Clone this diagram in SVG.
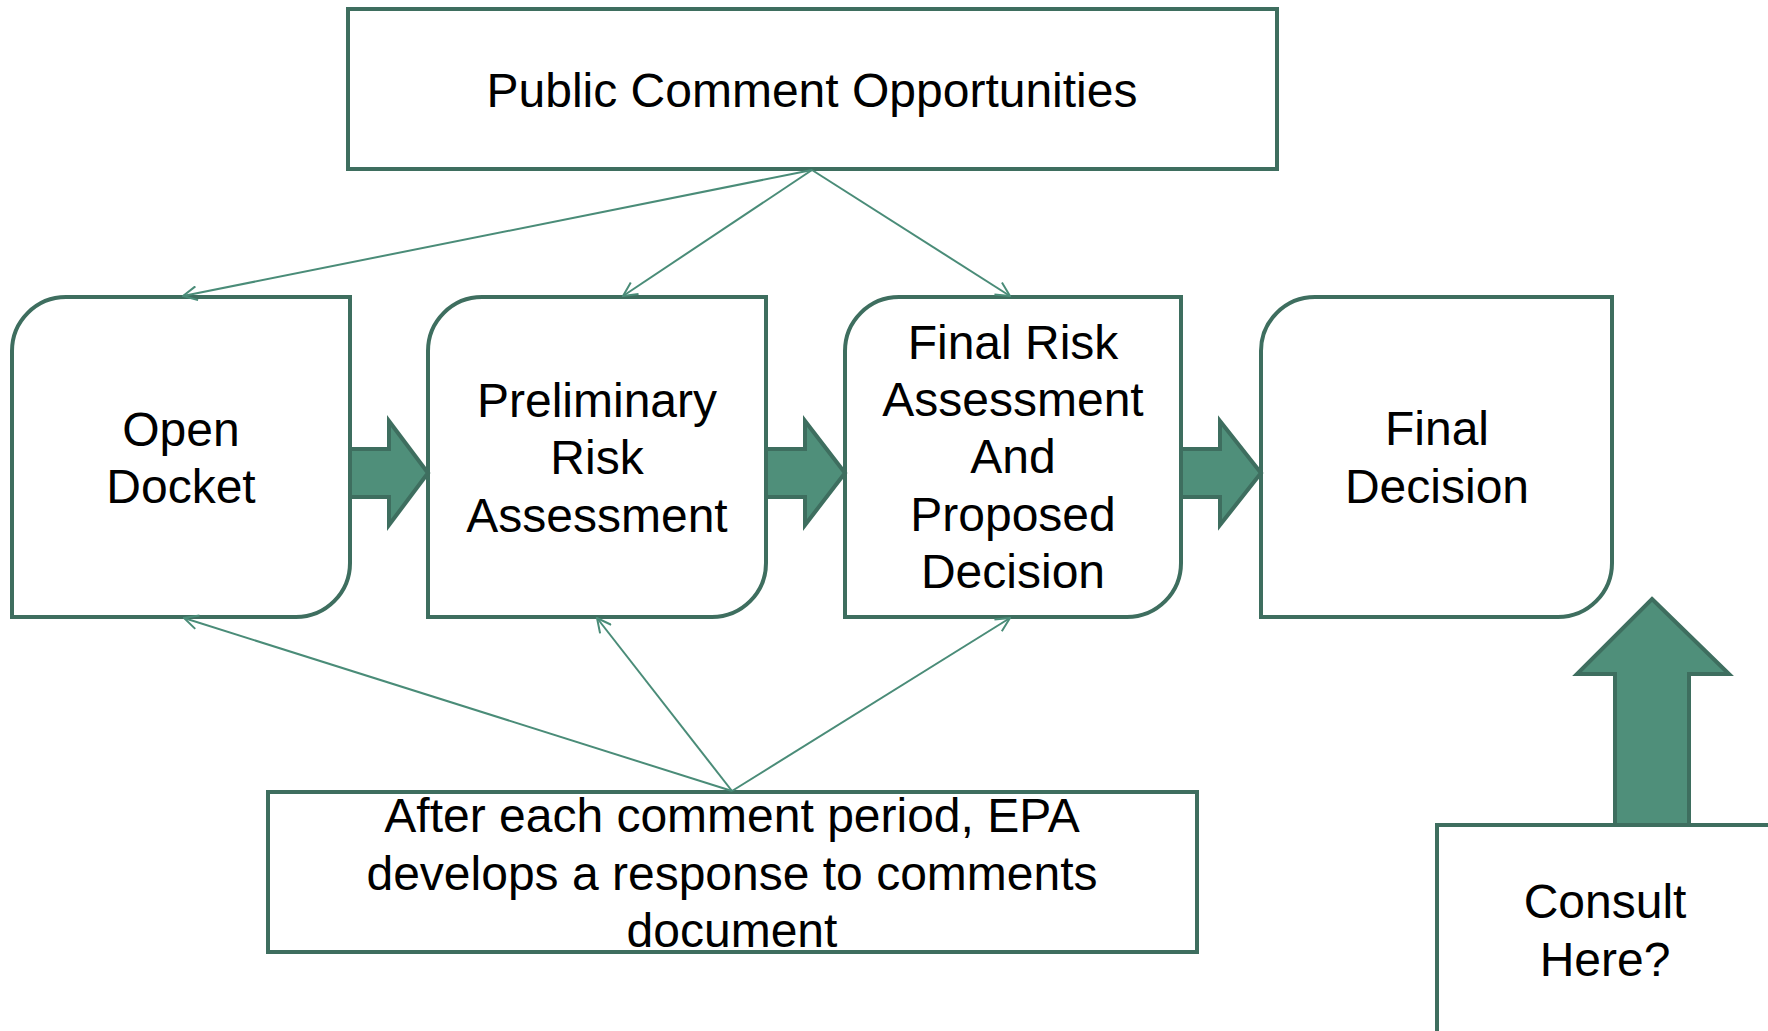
<svg xmlns="http://www.w3.org/2000/svg" width="1768" height="1031" viewBox="0 0 1768 1031">
<style>
.box{fill:#fff;stroke:#3e6e5f;stroke-width:4}
.blk{fill:#4f8f7a;stroke:#3e6e5f;stroke-width:4;stroke-linejoin:miter}
.con{fill:none;stroke:#4a8c78;stroke-width:2}
text{font-family:"Liberation Sans",Arial,sans-serif;font-size:48px;fill:#000;text-anchor:middle}
</style>
<defs>
<marker id="ah" viewBox="0 0 16 16" refX="15" refY="8" markerWidth="16" markerHeight="16" markerUnits="userSpaceOnUse" orient="auto">
<path d="M1,1 L15,8 L1,15" fill="none" stroke="#4a8c78" stroke-width="2"/>
</marker>
</defs>
<rect width="1768" height="1031" fill="#fff"/>
<g id="public-comment">
<rect class="box" x="348" y="9" width="929" height="160"/>
<text x="812" y="107">Public Comment Opportunities</text>
</g>
<g id="open-docket">
<path class="box" d="M12,351 A54,54 0 0 1 66,297 H350 V563 A54,54 0 0 1 296,617 H12 Z"/>
<text x="181" y="446">Open</text>
<text x="181" y="503">Docket</text>
</g>
<g id="preliminary">
<path class="box" d="M428,351 A54,54 0 0 1 482,297 H766 V563 A54,54 0 0 1 712,617 H428 Z"/>
<text x="597" y="417">Preliminary</text>
<text x="597" y="474">Risk</text>
<text x="597" y="532">Assessment</text>
</g>
<g id="final-risk">
<path class="box" d="M845,351 A54,54 0 0 1 899,297 H1181 V563 A54,54 0 0 1 1127,617 H845 Z"/>
<text x="1013" y="359">Final Risk</text>
<text x="1013" y="416">Assessment</text>
<text x="1013" y="473">And</text>
<text x="1013" y="531">Proposed</text>
<text x="1013" y="588">Decision</text>
</g>
<g id="final-decision">
<path class="box" d="M1261,351 A54,54 0 0 1 1315,297 H1612 V563 A54,54 0 0 1 1558,617 H1261 Z"/>
<text x="1437" y="445">Final</text>
<text x="1437" y="503">Decision</text>
</g>
<g id="response">
<rect class="box" x="268" y="792" width="929" height="160"/>
<text x="732" y="832">After each comment period, EPA</text>
<text x="732" y="890">develops a response to comments</text>
<text x="732" y="947">document</text>
</g>
<g id="connectors">
<path class="blk" d="M350,449 H389 V421 L428,473 L389,525 V497 H350 Z"/>
<path class="blk" d="M766,449 H805 V421 L845,473 L805,525 V497 H766 Z"/>
<path class="blk" d="M1181,449 H1220 V421 L1261,473 L1220,525 V497 H1181 Z"/>
<path class="blk" d="M1652,599 L1729,674 H1689 V825 H1615 V674 H1577 Z"/>
<line class="con" x1="812" y1="170" x2="183" y2="296" marker-end="url(#ah)"/>
<line class="con" x1="812" y1="170" x2="623" y2="296" marker-end="url(#ah)"/>
<line class="con" x1="812" y1="170" x2="1010" y2="296" marker-end="url(#ah)"/>
<line class="con" x1="732" y1="791" x2="184" y2="618" marker-end="url(#ah)"/>
<line class="con" x1="732" y1="791" x2="597" y2="618" marker-end="url(#ah)"/>
<line class="con" x1="732" y1="791" x2="1010" y2="618" marker-end="url(#ah)"/>
</g>
<g id="consult">
<rect class="box" x="1437" y="825" width="340" height="220"/>
<text x="1605" y="918">Consult</text>
<text x="1605" y="976">Here?</text>
</g>
</svg>
